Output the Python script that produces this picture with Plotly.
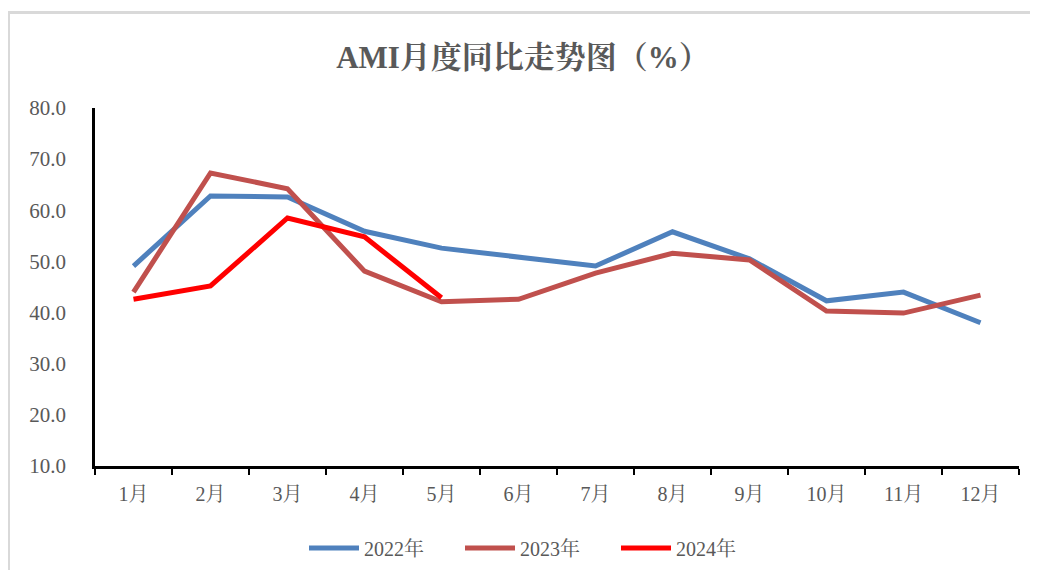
import plotly.graph_objects as go

months = ["1月", "2月", "3月", "4月", "5月", "6月", "7月", "8月", "9月", "10月", "11月", "12月"]
y2022 = [49.1, 62.8, 62.6, 55.9, 52.6, 50.8, 49.1, 55.8, 50.5, 42.3, 44.0, 38.0]
y2023 = [44.0, 67.3, 64.2, 48.1, 42.1, 42.6, 47.7, 51.6, 50.3, 40.3, 39.9, 43.4]
y2024 = [42.6, 45.2, 58.5, 54.8, 42.9]

FONT = "Liberation Serif, Times New Roman, Noto Serif CJK SC, Noto Sans CJK SC, serif"

fig = go.Figure()
fig.add_trace(go.Scatter(x=months, y=y2022, mode="lines", name="2022年",
                         line=dict(color="#4F81BD", width=5)))
fig.add_trace(go.Scatter(x=months, y=y2023, mode="lines", name="2023年",
                         line=dict(color="#C0504D", width=5)))
fig.add_trace(go.Scatter(x=months[:len(y2024)], y=y2024, mode="lines", name="2024年",
                         line=dict(color="#FF0000", width=5)))

# page body has an 8px margin; work in figure coordinates
OFF = 8
W, H = 1038 - 2 * OFF, 578 - 2 * OFF
L, R, T, B = 95 - OFF, 1019 - OFF, 108 - OFF, 466 - OFF
pw, ph = R - L, B - T

def px(x):
    return (x - OFF - L) / pw

def py(y):
    return (B - (y - OFF)) / ph

fig.update_layout(
    width=W, height=H, autosize=False,
    margin=dict(l=L, r=W - R, t=T, b=H - B, autoexpand=False),
    paper_bgcolor="white", plot_bgcolor="white",
    font=dict(family=FONT, size=20, color="#595959"),
    title=dict(text="<b>AMI月度同比走势图（%）</b>", x=(523 - OFF) / W, xanchor="center",
               y=1 - (57 - OFF) / H, yanchor="middle",
               font=dict(family=FONT, size=31, color="#595959")),
    showlegend=True,
    legend=dict(orientation="h", x=px(304), xanchor="left",
                y=py(548), yanchor="middle", font=dict(family=FONT, size=20, color="#595959"),
                entrywidth=91, entrywidthmode="pixels", itemwidth=50,
                traceorder="normal"),
    xaxis=dict(type="category", range=[-0.5, 11.5], showgrid=False, zeroline=False,
               showline=True, linecolor="black", linewidth=2.5, automargin=False,
               ticks="outside", tickson="boundaries", ticklen=6, tickwidth=2, tickcolor="black",
               tickangle=0, ticklabelstandoff=8,
               tickfont=dict(family=FONT, size=20, color="#595959")),
    yaxis=dict(range=[10, 80], dtick=10, tick0=10, tickformat=".1f", showgrid=False,
               zeroline=False, showline=True, linecolor="black", linewidth=2.5, automargin=False,
               ticks="", ticklabelstandoff=22,
               tickfont=dict(family=FONT, size=21, color="#595959")),
    shapes=[
        dict(type="line", xref="paper", yref="paper",
             x0=px(8), x1=px(1040), y0=py(12.5), y1=py(12.5),
             line=dict(color="#D9D9D9", width=3), layer="below"),
        dict(type="line", xref="paper", yref="paper",
             x0=px(9), x1=px(9), y0=py(12.5), y1=py(580),
             line=dict(color="#D9D9D9", width=2), layer="below"),
    ],
)

fig.write_html("out.html")
